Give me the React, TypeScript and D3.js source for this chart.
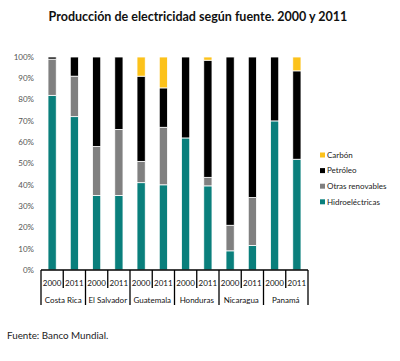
import React from "react";
import * as d3 from "d3";

const countries = ["Costa Rica", "El Salvador", "Guatemala", "Honduras", "Nicaragua", "Panamá"];
const years = ["2000", "2011"];
const seriesNames = ["Hidroeléctricas", "Otras renovables", "Petróleo", "Carbón"];
const seriesColors = ["#0a7f7c", "#808080", "#000000", "#fcc21b"];
// one value per country/year pair, in percent
const hidro = [82, 72, 35, 35, 41, 40, 62, 39.5, 9, 11.5, 70, 52];
const otras = [17, 19, 23, 31, 10, 27, 0, 4, 12, 22.5, 0, 0];
const petroleo = [1, 9, 42, 34, 40, 18.5, 38, 55, 79, 66, 30, 41.5];
const carbon = [0, 0, 0, 0, 9, 14.5, 0, 1.5, 0, 0, 0, 6.5];
const yTicks = [0, 0.1, 0.2, 0.3, 0.4, 0.5, 0.6, 0.7, 0.8, 0.9, 1];

const W = 400;
const H = 361;
const font = "Lato, 'Open Sans', sans-serif";

export default function App() {
  const rows = countries.flatMap((c, ci) =>
    years.map((yr, yi) => {
      const i = ci * 2 + yi;
      return {
        key: `${c}-${yr}`,
        country: c,
        year: yr,
        hidro: hidro[i] / 100,
        otras: otras[i] / 100,
        petroleo: petroleo[i] / 100,
        carbon: carbon[i] / 100,
      };
    })
  );
  const keys = ["hidro", "otras", "petroleo", "carbon"];
  const stacked = d3.stack<any>().keys(keys)(rows);

  const x = d3.scaleBand().domain(rows.map((r) => r.key)).range([41, 308]).padding(0);
  const y = d3.scaleLinear().domain([0, 1]).range([270, 57]);
  const fmt = d3.format(".0%");
  const barW = x.bandwidth() * 0.37;
  const axisY = y(0);

  return (
    <svg width={W} height={H} style={{ position: "absolute", left: 0, top: 0, background: "#fff" }} fontFamily={font}>
      <text x={198} y={21} textAnchor="middle" fontSize={12.5} fontWeight="bold" fill="#111">
        Producción de electricidad según fuente. 2000 y 2011
      </text>

      {yTicks.map((t) => (
        <text key={t} x={34} y={y(t)} dy="0.35em" textAnchor="end" fontSize={8} fill="#555">
          {fmt(t)}
        </text>
      ))}

      {stacked.map((s, si) => (
        <g key={s.key} fill={seriesColors[si]}>
          {s.map((d, i) => {
            const h = y(d[0]) - y(d[1]);
            if (h <= 0) return null;
            return (
              <rect
                key={i}
                x={(x(rows[i].key) as number) + (x.bandwidth() - barW) / 2}
                y={y(d[1])}
                width={barW}
                height={h}
                stroke="#fff"
                strokeWidth={0.8}
              />
            );
          })}
        </g>
      ))}

      {/* category axis box */}
      <g stroke="#000" strokeWidth={1.3}>
        <line x1={41} x2={308} y1={axisY} y2={axisY} />
        {rows.map((r, i) => (
          <line
            key={r.key}
            x1={x(r.key) as number}
            x2={x(r.key) as number}
            y1={axisY}
            y2={i % 2 === 0 ? 305 : 288}
          />
        ))}
        <line x1={308} x2={308} y1={axisY} y2={305} />
      </g>
      {rows.map((r) => (
        <text
          key={r.key}
          x={(x(r.key) as number) + x.bandwidth() / 2}
          y={283}
          dy="0.35em"
          textAnchor="middle"
          fontSize={8}
          fill="#111"
        >
          {r.year}
        </text>
      ))}
      {countries.map((c) => (
        <text
          key={c}
          x={(x(`${c}-2000`) as number) + x.bandwidth()}
          y={300}
          dy="0.35em"
          textAnchor="middle"
          fontSize={8}
          fill="#111"
        >
          {c}
        </text>
      ))}

      {/* legend, top entry is the last series */}
      {seriesNames
        .map((n, i) => ({ n, c: seriesColors[i] }))
        .reverse()
        .map((d, i) => (
          <g key={d.n} transform={`translate(320, ${155 + i * 15.6})`}>
            <rect x={0} y={-2.5} width={5} height={5} fill={d.c} />
            <text x={7} y={0} dy="0.35em" fontSize={8} fill="#222">
              {d.n}
            </text>
          </g>
        ))}

      <text x={7} y={338.5} fontSize={9.8} fill="#222">
        Fuente: Banco Mundial.
      </text>
    </svg>
  );
}
